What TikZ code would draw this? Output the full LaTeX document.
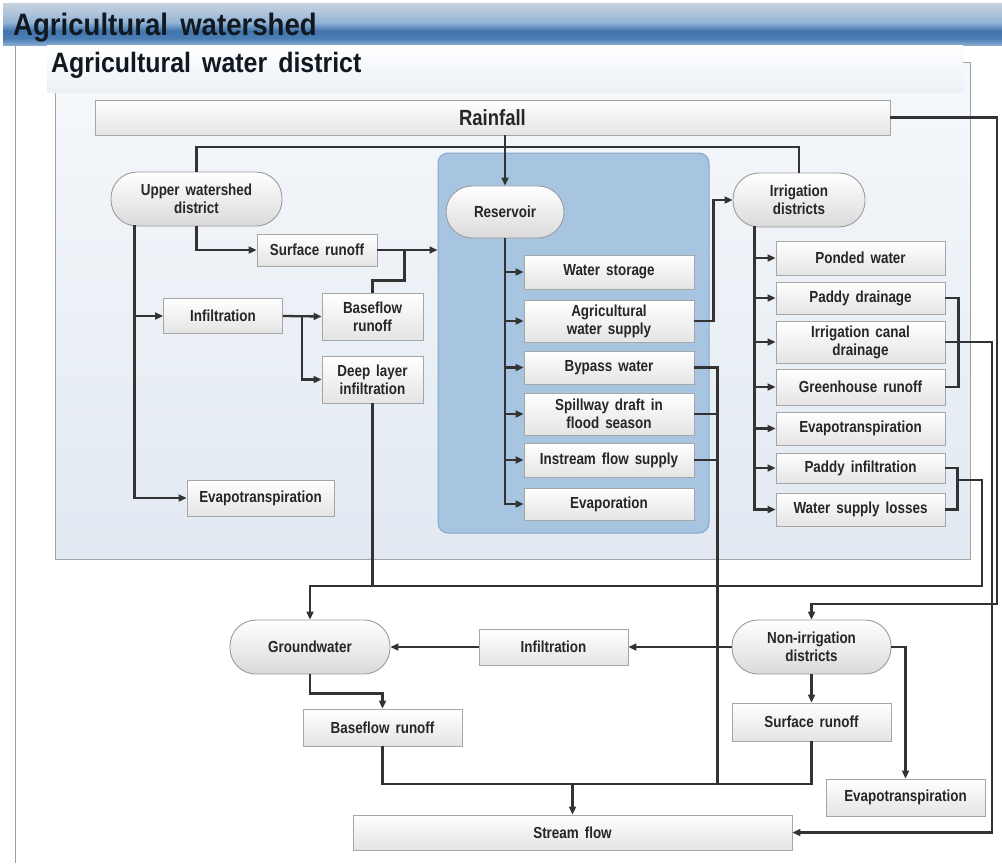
\documentclass[tikz,border=0pt]{standalone}
\usepackage{fontspec}
\setmainfont{Liberation Sans}
\newfontfamily\diafont[FakeStretch=0.84,WordSpace=1.6]{Liberation Sans}
\newfontfamily\headfont[FakeStretch=0.89,WordSpace=1.6]{Liberation Sans}
\usetikzlibrary{arrows.meta,calc}

\definecolor{ink}{HTML}{262626}
\definecolor{titleink}{HTML}{101820}
\definecolor{wirecol}{HTML}{333333}
\definecolor{boxedge}{HTML}{A6A6A6}
\definecolor{boxbot}{HTML}{E4E4E4}
\definecolor{pilledge}{HTML}{9C9C9C}
\definecolor{pillbot}{HTML}{DADADA}
\definecolor{paneltop}{HTML}{F5F8FB}
\definecolor{panelbot}{HTML}{E2E9F2}
\definecolor{paneledge}{HTML}{A3A3A3}
\definecolor{resfill}{HTML}{A7C4E0}
\definecolor{resedge}{HTML}{86A7CA}
\definecolor{subbot}{HTML}{EBF0F6}
\definecolor{framegray}{HTML}{A0A0A0}
\definecolor{hbA}{HTML}{86AAD0}
\definecolor{hbB}{HTML}{4A7DB3}
\definecolor{hbC}{HTML}{4275AC}
\definecolor{hbD}{HTML}{93B4D6}
\definecolor{hbE}{HTML}{AFC4DA}
\definecolor{hbF}{HTML}{C6D2DE}

% header bar: bottom is 25bp, top is 75bp
\pgfdeclareverticalshading{hdrbar}{100bp}{color(0bp)=(hbA); color(25bp)=(hbA);
  color(33bp)=(hbB); color(42bp)=(hbC); color(52bp)=(hbD); color(63bp)=(hbE);
  color(75bp)=(hbF); color(100bp)=(hbF)}

\tikzset{
  wire/.style={draw=wirecol, line width=2.3pt},
  arr/.style={wire, -{Triangle[length=8pt,width=7pt]}},
  procbox/.style={draw=boxedge, line width=0.9pt, top color=white, bottom color=boxbot,
    text=ink, font={\diafont\bfseries\fontsize{16}{18}\selectfont}, align=center,
    inner sep=0pt},
  pillnode/.style={procbox, draw=pilledge, bottom color=pillbot, rounded corners=26pt},
  titletext/.style={text=titleink, inner sep=0pt}
}

\begin{document}
\begin{tikzpicture}[x=1pt,y=-1pt]
\useasboundingbox (0,0) rectangle (1002,863);
\fill[white] (0,0) rectangle (1002,863);

% ---- frames and panels ----
\node[shading=hdrbar, minimum width=999pt, minimum height=42pt, inner sep=0pt] (hdr) at (502.5,24) {};
\draw[framegray, line width=1pt] (15,45) -- (15,863);
\node[draw=paneledge, line width=1pt, top color=paneltop, bottom color=panelbot,
  minimum width=915pt, minimum height=497pt, inner sep=0pt] (panel) at (512.5,310.5) {};
\node[top color=white, bottom color=subbot, minimum width=916pt, minimum height=47pt,
  inner sep=0pt] (sub) at (505,68.5) {};
\node[titletext, anchor=base west, font={\headfont\bfseries\fontsize{31}{33}\selectfont}]
  (ttl) at (13,35) {Agricultural watershed};
\node[titletext, anchor=base west, font={\headfont\bfseries\fontsize{28}{30}\selectfont}]
  (subttl) at (51,72) {Agricultural water district};
\node[draw=resedge, line width=1pt, fill=resfill, rounded corners=10pt,
  minimum width=271pt, minimum height=380pt, inner sep=0pt] (rpanel) at (573.5,343) {};

% ---- rainfall ----
\node[procbox, minimum width=795pt, minimum height=35pt,
  font={\diafont\bfseries\fontsize{22}{24}\selectfont}] (rain) at (492.5,117.5) {Rainfall};

% ---- upper watershed ----
\node[pillnode, minimum width=171pt, minimum height=54pt] (upper) at (196.5,199) {Upper watershed\\district};
\node[procbox, minimum width=120pt, minimum height=32pt] (sr1) at (317,250) {Surface runoff};
\node[procbox, minimum width=119pt, minimum height=35pt] (inf1) at (223,316) {Infiltration};
\node[procbox, minimum width=101pt, minimum height=47pt] (bf1) at (372.5,316.5) {Baseflow\\runoff};
\node[procbox, minimum width=101pt, minimum height=47pt] (deep) at (372.5,379.5) {Deep layer\\infiltration};
\node[procbox, minimum width=147pt, minimum height=36pt] (et1) at (260.5,498) {Evapotranspiration};

% ---- reservoir ----
\node[pillnode, minimum width=118pt, minimum height=52pt] (resv) at (505,212) {Reservoir};
\node[procbox, minimum width=170pt, minimum height=34pt] (ws) at (609,272) {Water storage};
\node[procbox, minimum width=170pt, minimum height=42pt] (aws) at (609,321) {Agricultural\\water supply};
\node[procbox, minimum width=170pt, minimum height=33pt] (byp) at (609,367.5) {Bypass water};
\node[procbox, minimum width=170pt, minimum height=42pt] (spill) at (609,414) {Spillway draft in\\flood season};
\node[procbox, minimum width=170pt, minimum height=34pt] (instr) at (609,460) {Instream flow supply};
\node[procbox, minimum width=170pt, minimum height=32pt] (evap) at (609,504) {Evaporation};

% ---- irrigation districts ----
\node[pillnode, minimum width=132pt, minimum height=54pt] (irr) at (799,200) {Irrigation\\districts};
\node[procbox, minimum width=169pt, minimum height=34pt] (pond) at (860.5,258) {Ponded water};
\node[procbox, minimum width=169pt, minimum height=32pt] (pdr) at (860.5,298) {Paddy drainage};
\node[procbox, minimum width=169pt, minimum height=42pt] (icd) at (860.5,342) {Irrigation canal\\drainage};
\node[procbox, minimum width=169pt, minimum height=36pt] (gh) at (860.5,387) {Greenhouse runoff};
\node[procbox, minimum width=169pt, minimum height=33pt] (et2) at (860.5,428.5) {Evapotranspiration};
\node[procbox, minimum width=169pt, minimum height=30pt] (pinf) at (860.5,468) {Paddy infiltration};
\node[procbox, minimum width=169pt, minimum height=33pt] (wsl) at (860.5,509.5) {Water supply losses};

% ---- lower part ----
\node[pillnode, minimum width=160pt, minimum height=54pt] (gw) at (310,647) {Groundwater};
\node[procbox, minimum width=149pt, minimum height=36pt] (inf2) at (553.5,647) {Infiltration};
\node[pillnode, minimum width=159pt, minimum height=54pt] (nonirr) at (811.5,647) {Non-irrigation\\districts};
\node[procbox, minimum width=159pt, minimum height=37pt] (bf2) at (382.5,727.5) {Baseflow runoff};
\node[procbox, minimum width=159pt, minimum height=38pt] (sr2) at (811.5,722) {Surface runoff};
\node[procbox, minimum width=159pt, minimum height=37pt] (et3) at (905.5,797.5) {Evapotranspiration};
\node[procbox, minimum width=439pt, minimum height=35pt] (stream) at (572.5,832.5) {Stream flow};

% ---- routing levels ----
\coordinate (topbus) at (0,147);
\coordinate (gwbus) at (0,586);
\coordinate (nbus) at (0,604);
\coordinate (sbus) at (0,784);
\coordinate (rx1) at (997,0);
\coordinate (rx2) at (992,0);
\coordinate (px) at (982,0);

% rainfall
\draw[arr] (rain.south -| resv.north) -- (resv.north);
\draw[wire] (upper.north) -- (upper.north |- topbus) -- (irr.north |- topbus) -- (irr.north);
\draw[arr] (rain.east) -- (rain.east -| rx1) -- (rx1 |- nbus) -| (nonirr.north);

% upper watershed district
\draw[arr] (upper.south) |- (sr1.west);
\coordinate (lt) at ($(upper.south west)+(24,-1)$);
\draw[arr] (lt) |- (et1.west);
\draw[arr] (lt |- inf1.west) -- (inf1.west);
\draw[arr] (inf1.east) -- (bf1.west);
\coordinate (ib) at ($(inf1.east)+(19,0)$);
\draw[arr] (ib) |- (deep.west);
\draw[arr] (sr1.east) -- (sr1.east -| rpanel.west);
\draw[wire] (bf1.north) -- ++(0,-12) -| ($(sr1.east)+(27,0)$);
\draw[wire] (deep.south) -- (deep.south |- gwbus);

% reservoir
\foreach \n in {ws,aws,byp,spill,instr,evap}
  \draw[arr] (resv.south) |- (\n.west);
\draw[arr] (aws.east) -- ++(19,0) |- (irr.west);
\coordinate (bx) at ($(byp.east)+(23,0)$);
\draw[wire] (byp.east) -| (bx |- sbus);
\draw[wire] (spill.east) -- (spill.east -| bx);
\draw[wire] (instr.east) -- (instr.east -| bx);

% irrigation districts
\coordinate (it) at ($(irr.south west)+(22,-1)$);
\foreach \n in {pond,pdr,icd,gh,et2,pinf,wsl}
  \draw[arr] (it) |- (\n.west);
\coordinate (pdb) at ($(pdr.east)+(13,0)$);
\draw[wire] (pdr.east) -| (pdb |- gh.east) -- (gh.east);
\draw[arr] (icd.east) -- (icd.east -| rx2) |- (stream.east);
\coordinate (pb) at ($(pinf.east)+(12,0)$);
\draw[wire] (pinf.east) -| (pb |- wsl.east) -- (wsl.east);
\draw[arr] ($(pb)+(0,12)$) -| (px |- gwbus) -| (gw.north);

% groundwater and non-irrigation districts
\draw[arr] (nonirr.west) -- (inf2.east);
\draw[arr] (inf2.west) -- (gw.east);
\draw[arr] (nonirr.south) -- (sr2.north);
\draw[arr] (nonirr.east) -| (et3.north);
\draw[arr] (gw.south) -- ++(0,19) -| (bf2.north);
\draw[wire] (bf2.south) |- (sbus -| sr2.south) -- (sr2.south);
\draw[arr] (stream.north |- sbus) -- (stream.north);
\end{tikzpicture}
\end{document}
